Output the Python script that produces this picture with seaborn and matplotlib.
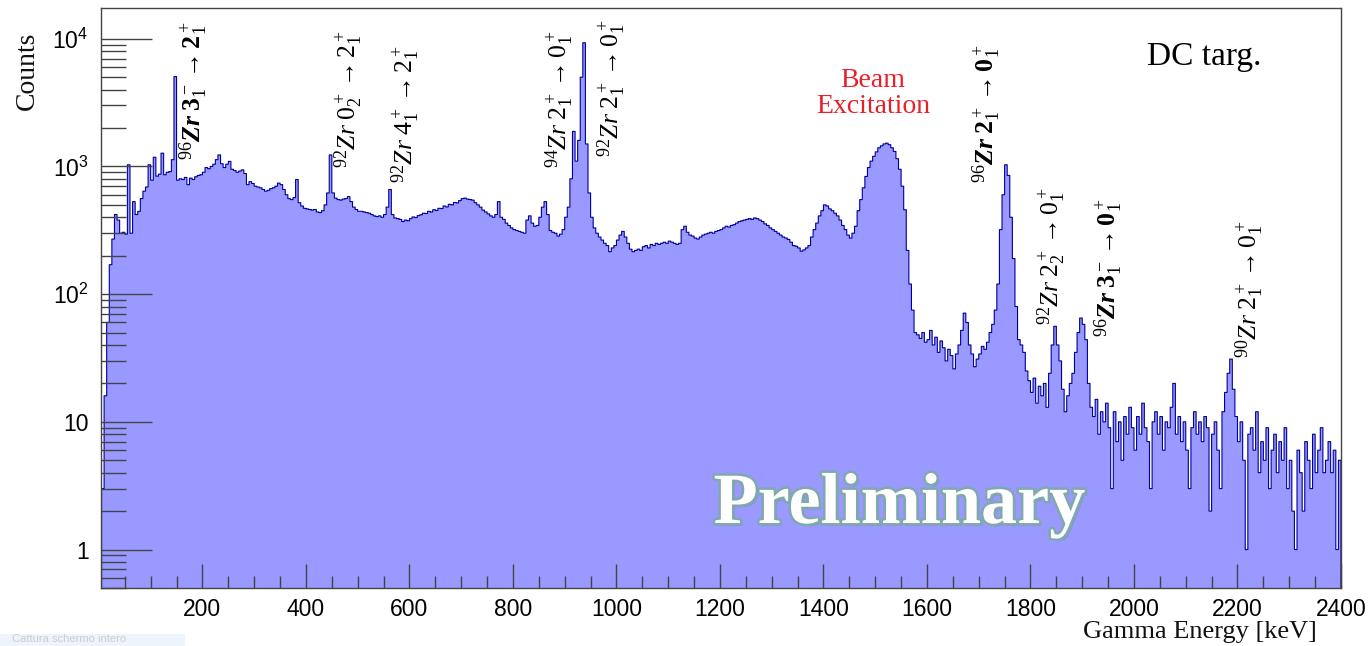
# Gamma spectrum, DC target (log counts vs energy)

import numpy as np
import pandas as pd
import matplotlib
matplotlib.use("Agg")
import matplotlib.pyplot as plt
import matplotlib.patheffects as pe
from matplotlib.patches import Rectangle
from matplotlib.ticker import MultipleLocator, LogLocator, FuncFormatter, NullFormatter
import seaborn as sns

# spectrum, 5 keV bins starting at 5 keV (one row = 100 keV)
bin_width = 5
first_edge = 5
last_edge = 2400

counts_0005_0100 = [3, 16, 60, 170, 270, 420, 380, 300, 305, 295,
                    1030, 300, 530, 420, 445, 560, 640, 690, 1030]
counts_0100_0200 = [780, 1180, 840, 870, 1270, 860, 900, 910, 1130, 5050,
                    780, 800, 790, 820, 720, 810, 790, 830, 850, 860]
counts_0200_0300 = [900, 980, 960, 1000, 1040, 1130, 1230, 1050, 980, 1040,
                    1095, 950, 930, 900, 920, 940, 880, 720, 760, 735]
counts_0300_0400 = [700, 690, 680, 660, 640, 650, 670, 680, 700, 740,
                    720, 660, 600, 560, 550, 570, 790, 520, 490, 470]
counts_0400_0500 = [465, 460, 455, 460, 440, 435, 450, 500, 620, 1230,
                    620, 565, 550, 545, 555, 560, 580, 530, 480, 460]
counts_0500_0600 = [445, 445, 440, 435, 430, 420, 410, 405, 410, 400,
                    420, 480, 660, 420, 395, 390, 385, 370, 380, 375]
counts_0600_0700 = [390, 402, 398, 412, 418, 430, 428, 445, 440, 458,
                    452, 470, 468, 490, 482, 505, 500, 522, 518, 540]
counts_0700_0800 = [560, 565, 555, 550, 545, 520, 500, 480, 455, 440,
                    425, 410, 400, 420, 530, 400, 385, 360, 345, 330]
counts_0800_0900 = [320, 315, 310, 305, 300, 380, 410, 360, 340, 345,
                    400, 480, 530, 420, 315, 305, 300, 285, 295, 320]
counts_0900_1000 = [400, 480, 800, 1880, 1100, 1600, 5000, 9300, 1500, 620,
                    400, 330, 300, 280, 265, 250, 240, 215, 230, 240]
counts_1000_1100 = [265, 290, 310, 280, 250, 225, 215, 220, 225, 220,
                    235, 240, 230, 245, 240, 250, 245, 250, 255, 250]
counts_1100_1200 = [260, 255, 250, 245, 250, 320, 340, 305, 290, 285,
                    275, 270, 280, 290, 295, 300, 305, 300, 310, 315]
counts_1200_1300 = [320, 330, 340, 335, 345, 350, 360, 370, 375, 380,
                    385, 390, 385, 395, 390, 380, 370, 355, 345, 330]
counts_1300_1400 = [320, 310, 300, 290, 280, 275, 268, 255, 240, 237,
                    230, 217, 222, 230, 240, 280, 320, 360, 410, 450]
counts_1400_1500 = [500, 490, 465, 450, 430, 410, 380, 345, 320, 290,
                    275, 300, 340, 450, 550, 680, 835, 980, 1100, 1200]
counts_1500_1600 = [1300, 1400, 1450, 1500, 1520, 1480, 1400, 1310, 1150, 950,
                    700, 458, 220, 120, 75, 50, 48, 45, 50, 42]
counts_1600_1700 = [44, 52, 40, 46, 35, 43, 38, 30, 37, 33,
                    26, 34, 40, 52, 71, 60, 40, 34, 27, 31]
counts_1700_1800 = [34, 39, 37, 42, 50, 58, 75, 120, 320, 600,
                    1030, 850, 400, 190, 80, 44, 40, 35, 25, 21]
counts_1800_1900 = [17, 22, 14, 19, 16, 20, 13, 24, 40, 56,
                    40, 30, 18, 12, 16, 20, 24, 35, 50, 65]
counts_1900_2000 = [58, 44, 20, 13, 11, 15, 8, 12, 10, 14,
                    9, 3, 12, 7, 10, 5, 11, 8, 13, 9]
counts_2000_2100 = [6, 11, 8, 14, 9, 7, 3, 10, 12, 8,
                    11, 6, 10, 9, 13, 20, 8, 11, 7, 10]
counts_2100_2200 = [6, 3, 9, 12, 8, 10, 7, 11, 9, 2,
                    8, 10, 6, 3, 12, 17, 24, 31, 18, 11]
counts_2200_2300 = [7, 10, 5, 1, 8, 9, 6, 12, 4, 7,
                    5, 9, 3, 6, 8, 4, 7, 5, 9, 3]
counts_2300_2400 = [5, 2, 1, 6, 4, 2, 7, 5, 3, 8,
                    4, 6, 9, 4, 5, 7, 4, 6, 1, 5]

# peak labels
label_texts = [
    r'$^{96}\mathbfit{Zr}\;\mathbf{3}_1^- \rightarrow \mathbf{2}_1^+$',
    r'$^{92}Zr\;0_2^+ \rightarrow 2_1^+$',
    r'$^{92}Zr\;4_1^+ \rightarrow 2_1^+$',
    r'$^{94}Zr\;2_1^+ \rightarrow 0_1^+$',
    r'$^{92}Zr\;2_1^+ \rightarrow 0_1^+$',
    r'$^{96}\mathbfit{Zr}\;\mathbf{2}_1^+ \rightarrow \mathbf{0}_1^+$',
    r'$^{92}Zr\;2_2^+ \rightarrow 0_1^+$',
    r'$^{96}\mathbfit{Zr}\;\mathbf{3}_1^- \rightarrow \mathbf{0}_1^+$',
    r'$^{90}Zr\;2_1^+ \rightarrow 0_1^+$',
]
label_energy = [184, 482, 592, 890, 990, 1715, 1841, 1951, 2224]

counts = np.array(counts_0005_0100 + counts_0100_0200 + counts_0200_0300 + counts_0300_0400
                  + counts_0400_0500 + counts_0500_0600 + counts_0600_0700 + counts_0700_0800
                  + counts_0800_0900 + counts_0900_1000 + counts_1000_1100 + counts_1100_1200
                  + counts_1200_1300 + counts_1300_1400 + counts_1400_1500 + counts_1500_1600
                  + counts_1600_1700 + counts_1700_1800 + counts_1800_1900 + counts_1900_2000
                  + counts_2000_2100 + counts_2100_2200 + counts_2200_2300 + counts_2300_2400,
                  dtype=float)
centers = first_edge + bin_width * (np.arange(len(counts)) + 0.5)
spectrum = pd.DataFrame({'energy': centers, 'counts': counts})

# style
sns.set_style("white")
plt.rcParams['font.family'] = ['Liberation Sans', 'DejaVu Sans']
plt.rcParams['mathtext.fontset'] = 'custom'
plt.rcParams['mathtext.rm'] = 'Liberation Serif'
plt.rcParams['mathtext.it'] = 'Liberation Serif:italic'
plt.rcParams['mathtext.bf'] = 'Liberation Serif:bold'
plt.rcParams['mathtext.bfit'] = 'Liberation Serif:italic:bold'
plt.rcParams['mathtext.sf'] = 'Liberation Sans'

fill_color = '#9999ff'
line_color = '#000099'
frame_color = '#444444'

fig = plt.figure(figsize=(13.7, 6.46), dpi=100)
ax = fig.add_axes([101 / 1370, 58 / 646, 1240 / 1370, 580 / 646])

sns.histplot(data=spectrum, x='energy', weights='counts', binwidth=bin_width,
             binrange=(first_edge, last_edge), element='step', fill=True,
             color=fill_color, edgecolor=line_color, linewidth=0.8, alpha=1.0, ax=ax)

ax.set_yscale('log')
ax.set_xlim(4, 2400)
ax.set_ylim(0.5, 1.74e4)
ax.set_xlabel('')
ax.set_ylabel('')
ax.set_axisbelow(False)  # ROOT draws the ticks on top of the filled histogram

for sp in ax.spines.values():
    sp.set_color(frame_color)
    sp.set_linewidth(1.0)

ax.xaxis.set_major_locator(MultipleLocator(200))
ax.xaxis.set_minor_locator(MultipleLocator(50))
ax.yaxis.set_major_locator(LogLocator(base=10, numticks=10))
ax.yaxis.set_minor_locator(LogLocator(base=10, subs=np.arange(2, 10), numticks=20))
ax.yaxis.set_minor_formatter(NullFormatter())


def ylab(v, pos):
    if v < 1.5:
        return '1'
    if v < 15:
        return '10'
    return r'$\mathsf{10^{%d}}$' % int(round(np.log10(v)))


ax.yaxis.set_major_formatter(FuncFormatter(ylab))
ax.tick_params(axis='x', which='major', direction='in', length=17, width=1, color=frame_color,
               labelsize=16.5, labelcolor='black', pad=7, bottom=True, top=False)
ax.tick_params(axis='x', which='minor', direction='in', length=9, width=1, color=frame_color,
               bottom=True, top=False)
ax.tick_params(axis='y', which='major', direction='in', length=37, width=1, color=frame_color,
               labelsize=16.5, labelcolor='black', pad=9, left=True, right=False)
ax.tick_params(axis='y', which='minor', direction='in', length=18, width=1, color=frame_color,
               left=True, right=False)

# axis titles, ROOT style
fig.text(27 / 1370, 1 - 32 / 646, 'Counts', rotation=90, ha='center', va='top',
         family='Liberation Serif', fontsize=20, color='#111111')
fig.text(1317 / 1370, 1 - 632 / 646, 'Gamma Energy [keV]', ha='right', va='center',
         family='Liberation Serif', fontsize=19, color='#111111')

# peak labels
label_bottom = [0.738, 0.724, 0.698, 0.724, 0.743, 0.698, 0.453, 0.433, 0.397]
for txt, e, yb in zip(label_texts, label_energy, label_bottom):
    ax.text(e, yb, txt, transform=ax.get_xaxis_transform(), rotation=90,
            ha='center', va='bottom', fontsize=18.5, color='black')

ax.text(0.6226, 0.852, 'Beam\nExcitation', transform=ax.transAxes, ha='center', va='center',
        family='Liberation Serif', fontsize=20, color='#e8202a', linespacing=1.05)
ax.text(0.890, 0.9155, 'DC targ.', transform=ax.transAxes, ha='center', va='center',
        family='Liberation Serif', fontsize=24, color='black')

prelim = ax.text(0.644, 0.112, 'Preliminary', transform=ax.transAxes, ha='center', va='baseline',
                 family='Liberation Serif', fontweight='bold', fontsize=52, color='white')
prelim.set_path_effects([
    pe.withSimplePatchShadow(offset=(2, -2), shadow_rgbFace='#6f9aa0', alpha=0.5),
    pe.Stroke(linewidth=3.5, foreground='#7fa9aa'),
    pe.Normal(),
])

# screenshot tooltip remnant in the corner
fig.patches.append(Rectangle((0, 0), 185 / 1370, 12 / 646, transform=fig.transFigure,
                             facecolor='#eef4fb', edgecolor='none'))
fig.text(12 / 1370, 2 / 646, 'Cattura schermo intero', ha='left', va='bottom',
         fontsize=8, color='#c9cdd2')

fig.savefig('out.png', dpi=100)
